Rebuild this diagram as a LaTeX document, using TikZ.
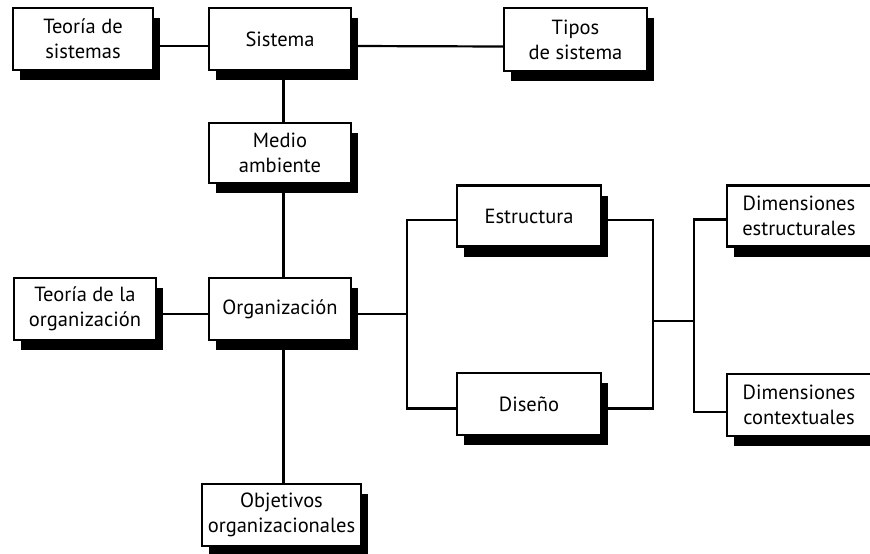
\documentclass[tikz,border=0pt]{standalone}
\usepackage{fontspec}
\setmainfont{PT Sans}
\usetikzlibrary{shadows}
\tikzset{
  box/.style={draw, line width=2.2pt, fill=white, align=center, inner sep=0pt,
    font=\fontsize{20.5}{25}\selectfont,
    drop shadow={shadow xshift=7pt, shadow yshift=-10pt, fill=black, opacity=1}},
  link/.style={line width=2.2pt}
}
\begin{document}
\begin{tikzpicture}[x=1pt, y=-1pt]
\useasboundingbox (0,0) rectangle (870,554);
\clip (0,0) rectangle (870,554);
% boxes
\node[box, minimum width=140pt, minimum height=62pt] (ts)  at (83,39)    {Teoría de\\sistemas};
\node[box, minimum width=142pt, minimum height=62pt] (sis) at (280,39)   {Sistema};
\node[box, minimum width=143pt, minimum height=63pt] (tip) at (575.5,39.5) {Tipos\\de sistema};
\node[box, minimum width=142pt, minimum height=60pt] (med) at (280,153)  {Medio\\ambiente};
\node[box, minimum width=142pt, minimum height=62pt] (org) at (280,309)  {Organización};
\node[box, minimum width=142pt, minimum height=62pt] (to)  at (85,309)   {Teoría de la\\organización};
\node[box, minimum width=159pt, minimum height=62pt] (obj) at (281.5,515) {Objetivos\\organizacionales};
\node[box, minimum width=144pt, minimum height=61pt] (est) at (529,216)  {Estructura};
\node[box, minimum width=144pt, minimum height=62pt] (dis) at (529,404)  {Diseño};
\node[box, minimum width=144pt, minimum height=61pt] (de)  at (799,216)  {Dimensiones\\estructurales};
\node[box, minimum width=144pt, minimum height=62pt] (dc)  at (799,405)  {Dimensiones\\contextuales};
% junction points of the brackets
\coordinate (jl) at (407,314);
\coordinate (jr) at (653,321);
\coordinate (jd) at (694,321);
% connectors
\draw[link] ([yshift=-7pt]ts.east) -- ([yshift=-7pt]sis.west);
\draw[link] ([yshift=-7pt]sis.east) -- ([yshift=-7pt]tip.west);
\draw[link] ([xshift=3.5pt]sis.south) -- ([xshift=3.5pt]med.north);
\draw[link] ([xshift=3.5pt]med.south) -- ([xshift=3.5pt]org.north);
\draw[link] ([xshift=3.5pt]org.south) -- ([xshift=3.5pt]org.south |- obj.north);
\draw[link] ([yshift=-5pt]to.east) -- ([yshift=-5pt]org.west);
\draw[link] ([yshift=-5pt]org.east) -- (jl);
\draw[link] ([yshift=-4pt]est.west) -| (jl);
\draw[link] ([yshift=-4.5pt]dis.west) -| (jl);
\draw[link] ([yshift=-4pt]est.east) -| (jr);
\draw[link] ([yshift=-4.5pt]dis.east) -| (jr);
\draw[link] (jr) -- (jd);
\draw[link] ([yshift=-3.5pt]de.west) -| (jd);
\draw[link] ([yshift=-7pt]dc.west) -| (jd);
\end{tikzpicture}
\end{document}
